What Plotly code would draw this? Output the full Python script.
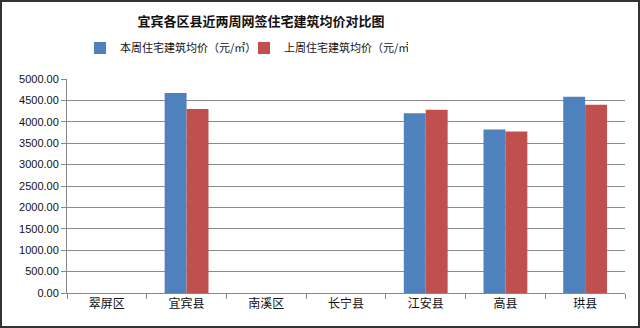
import plotly.graph_objects as go

categories = ["翠屏区", "宜宾县", "南溪区", "长宁县", "江安县", "高县", "珙县"]
this_week = [None, 4672, None, None, 4197, 3823, 4586]
last_week = [None, 4298, None, None, 4282, 3776, 4399]
series_names = ["本周住宅建筑均价（元/㎡）", "上周住宅建筑均价（元/㎡）"]
y_ticks = [0, 500, 1000, 1500, 2000, 2500, 3000, 3500, 4000, 4500, 5000]

W, H = 640, 328
L, R, T, B = 67, 15, 79, 35
pw, ph = W - L - R, H - T - B

fig = go.Figure()
fig.add_trace(go.Bar(x=categories, y=this_week, name=series_names[0],
                     marker=dict(color="#4F81BD", line=dict(width=0))))
fig.add_trace(go.Bar(x=categories, y=last_week, name=series_names[1],
                     marker=dict(color="#C0504D", line=dict(width=0))))

cjk = "Noto Sans CJK SC"
fig.update_layout(
    width=W, height=H,
    margin=dict(l=L, r=R, t=T, b=B),
    paper_bgcolor="white", plot_bgcolor="white",
    bargap=0.45, bargroupgap=0,
    title=dict(text="<b>宜宾各区县近两周网签住宅建筑均价对比图</b>",
               x=261 / W, xanchor="center", y=1 - 21 / H, yanchor="middle",
               font=dict(family=cjk, size=13, color="#111111")),
    legend=dict(orientation="h", x=(80 - L) / pw, xanchor="left",
                y=1 + (T - 48) / ph, yanchor="middle",
                font=dict(family=cjk, size=11, color="#111111"),
                entrywidth=119, entrywidthmode="pixels",
                itemwidth=30, bgcolor="rgba(0,0,0,0)"),
    showlegend=True,
    font=dict(family="Liberation Sans", color="#111111"),
)
fig.update_xaxes(
    type="category", showgrid=False, showline=True, linecolor="#888888", linewidth=1,
    ticks="outside", tickson="boundaries", ticklen=5, tickcolor="#888888",
    tickfont=dict(family=cjk, size=12, color="#111111"),
    range=[-0.5, 6.5],
)
fig.update_yaxes(
    range=[0, 5000], tickvals=y_ticks, ticktext=[f"{v:.2f}" for v in y_ticks],
    showgrid=True, gridcolor="#8c8c8c", gridwidth=1,
    showline=True, linecolor="#888888", linewidth=1,
    ticks="outside", ticklen=5, tickcolor="#888888",
    tickfont=dict(family="Liberation Sans", size=11, color="#111111"),
    zeroline=False,
)
# outer frame of the image
fig.add_shape(type="rect", xref="paper", yref="paper",
              x0=(1 - L) / pw, x1=(W - 1 - L) / pw,
              y0=-(B - 1) / ph, y1=1 + (T - 1) / ph,
              line=dict(color="#333333", width=2), fillcolor="rgba(0,0,0,0)")

fig.write_html("out.html")
